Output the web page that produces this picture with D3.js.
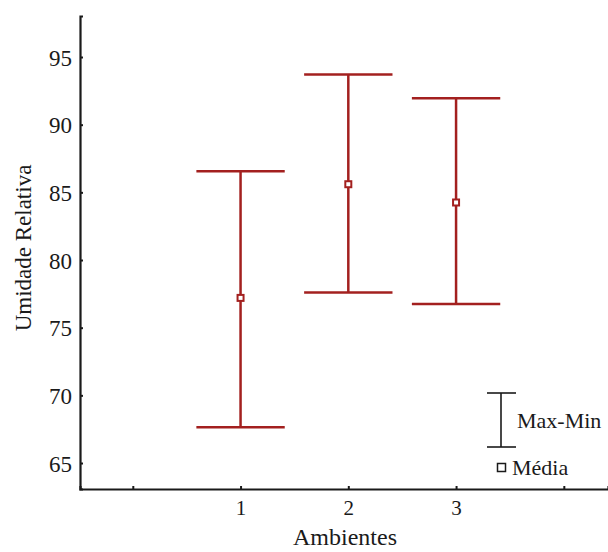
<!DOCTYPE html>
<html>
<head>
<meta charset="utf-8">
<script src="https://cdn.jsdelivr.net/npm/d3@7"></script>
<style>
  body { margin: 0; background: #fff; }
  text { font-family: "Liberation Serif", "Times New Roman", serif; }
</style>
</head>
<body>
<div id="chart"></div>
<script>
// values
const ambientes = [1, 2, 3];
const maxVals = [86.55, 93.7, 91.95];
const minVals = [67.65, 77.6, 76.75];
const mediaVals = [77.2, 85.6, 84.25];
const yTicks = [65, 70, 75, 80, 85, 90, 95];
const xTicks = [0, 1, 2, 3, 4];

const width = 608, height = 552;
const red = "#a3201f";
const ink = "#1a1a1a";

const svg = d3.select("#chart")
    .append("svg")
    .attr("width", width)
    .attr("height", height);

// scales
const xScale = d3.scaleLinear()
    .domain([-0.49, 4.41])
    .range([80, 608]);

const yScale = d3.scaleLinear()
    .domain([63.08, 98.03])
    .range([489, 16]);

// y axis
const yAxis = svg.append("g")
    .attr("transform", "translate(80,0)")
    .call(d3.axisLeft(yScale).tickValues(yTicks).tickSize(-3).tickPadding(8));

// x axis
const xAxis = svg.append("g")
    .attr("transform", "translate(0,489)")
    .call(d3.axisBottom(xScale).tickValues(xTicks).tickSize(-3).tickPadding(10)
        .tickFormat(d => ambientes.includes(d) ? d : ""));

[yAxis, xAxis].forEach(ax => {
    ax.select(".domain").attr("stroke", ink).attr("stroke-width", 2.2);
    ax.selectAll(".tick line").attr("stroke", ink).attr("stroke-width", 2);
    ax.selectAll(".tick text")
        .attr("font-family", "'Liberation Serif', serif")
        .attr("fill", ink);
});
yAxis.selectAll(".tick text").attr("font-size", "23px").attr("dy", "0.36em");
xAxis.selectAll(".tick text").attr("font-size", "21px").attr("dy", "0.75em");

// axis titles
svg.append("text")
    .attr("transform", "rotate(-90)")
    .attr("x", -248)
    .attr("y", 31)
    .attr("text-anchor", "middle")
    .attr("font-size", "23px")
    .attr("fill", ink)
    .text("Umidade Relativa");

svg.append("text")
    .attr("x", 345)
    .attr("y", 545)
    .attr("text-anchor", "middle")
    .attr("font-size", "24px")
    .attr("fill", ink)
    .text("Ambientes");

// error bars
const capHalf = 0.41;
const bars = svg.append("g");
ambientes.forEach((a, i) => {
    const g = bars.append("g");
    g.append("line")
        .attr("x1", xScale(a)).attr("x2", xScale(a))
        .attr("y1", yScale(maxVals[i])).attr("y2", yScale(minVals[i]))
        .attr("stroke", red).attr("stroke-width", 2.5);
    [maxVals[i], minVals[i]].forEach(v => {
        g.append("line")
            .attr("x1", xScale(a - capHalf)).attr("x2", xScale(a + capHalf))
            .attr("y1", yScale(v)).attr("y2", yScale(v))
            .attr("stroke", red).attr("stroke-width", 2.5);
    });
    g.append("rect")
        .attr("x", xScale(a) - 3).attr("y", yScale(mediaVals[i]) - 3)
        .attr("width", 6).attr("height", 6)
        .attr("fill", "#fff")
        .attr("stroke", red).attr("stroke-width", 2);
});

// legend
const legend = svg.append("g");
legend.append("line")
    .attr("x1", 501).attr("x2", 501).attr("y1", 393).attr("y2", 447)
    .attr("stroke", ink).attr("stroke-width", 1.6);
[393, 447].forEach(y => {
    legend.append("line")
        .attr("x1", 487).attr("x2", 516).attr("y1", y).attr("y2", y)
        .attr("stroke", ink).attr("stroke-width", 1.6);
});
legend.append("text")
    .attr("x", 517).attr("y", 428)
    .attr("font-size", "22px")
    .attr("fill", ink)
    .text("Max-Min");
legend.append("rect")
    .attr("x", 497.5).attr("y", 463.5)
    .attr("width", 8).attr("height", 8)
    .attr("fill", "#fff")
    .attr("stroke", ink).attr("stroke-width", 1.5);
legend.append("text")
    .attr("x", 512).attr("y", 475)
    .attr("font-size", "22px")
    .attr("fill", ink)
    .text("Média");
</script>
</body>
</html>
